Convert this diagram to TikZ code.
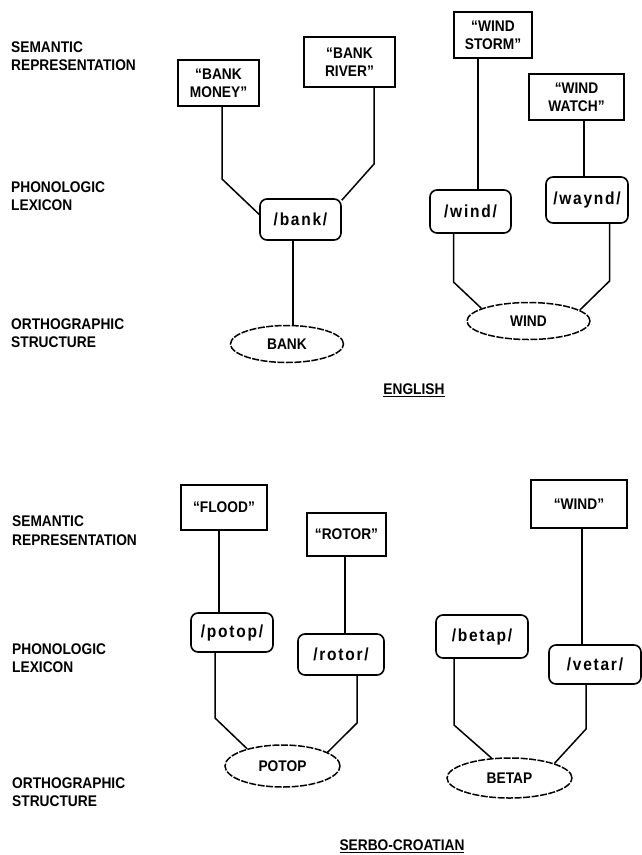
\documentclass[tikz,border=0pt]{standalone}
\usepackage{fontspec}
\setmainfont{Liberation Sans}[FakeStretch=0.89]
\newfontfamily\phonfont{Liberation Sans}[LetterSpace=10, FakeStretch=0.89]
\usetikzlibrary{shapes.geometric}
\tikzset{
  txt/.style={font=\bfseries\fontsize{15.5}{18.5}\selectfont},
  lbl/.style={txt, anchor=west, align=left, inner sep=0pt},
  sem/.style={txt, draw, line width=1.6bp, align=center, inner sep=0pt},
  phon/.style={draw, rounded corners=7bp, line width=1.6bp, inner sep=0pt,
    font=\phonfont\bfseries\fontsize{17.5}{20}\selectfont},
  orth/.style={txt, draw, ellipse, dash pattern=on 7bp off 1.5bp, line width=1.5bp, inner sep=0pt},
  conn/.style={line width=1.5bp},
  title/.style={txt, inner sep=0pt}
}
\begin{document}
\begin{tikzpicture}[x=1bp,y=-1bp]
\useasboundingbox (0,0) rectangle (642,855);
% ---------------- ENGLISH ----------------
\node[lbl] (l1) at (11,56) {SEMANTIC\\REPRESENTATION};
\node[lbl] (l2) at (11,196) {PHONOLOGIC\\LEXICON};
\node[lbl] (l3) at (11,333) {ORTHOGRAPHIC\\STRUCTURE};

\node[sem, minimum width=81bp, minimum height=46bp] (bm) at (218.5,83) {``BANK\\MONEY''};
\node[sem, minimum width=91bp, minimum height=50bp] (br) at (349.5,62) {``BANK\\RIVER''};
\node[sem, minimum width=78bp, minimum height=46bp] (ws) at (493,35) {``WIND\\STORM''};
\node[sem, minimum width=95bp, minimum height=46bp] (ww) at (576.5,97) {``WIND\\WATCH''};

\node[phon, minimum width=81bp, minimum height=41bp] (bank) at (300.5,219.5) {/bank/};
\node[phon, minimum width=81bp, minimum height=43bp] (wind) at (470.5,211.5) {/wind/};
\node[phon, minimum width=82bp, minimum height=46bp] (waynd) at (587,200) {/waynd/};

\node[orth, minimum width=113bp, minimum height=37bp] (oBank) at (287,344) {BANK};
\node[orth, minimum width=123bp, minimum height=37bp] (oWind) at (528.5,321) {WIND};

\node[title] (en) at (414,390) {\underline{ENGLISH}};

\coordinate (k1) at (222,179);
\draw[conn] (k1 |- bm.south) -- (k1) -- (bank.173);
\coordinate (k2) at (374,164);
\draw[conn] (k2 |- br.south) -- (k2) -- (bank.25);
\coordinate (k3) at (293,0);
\draw[conn] (bank.south -| k3) -- (oBank.north -| k3);
\coordinate (k4) at (478,0);
\draw[conn] (ws.south -| k4) -- (wind.north -| k4);
\coordinate (k5) at (584,0);
\draw[conn] (ww.south -| k5) -- (waynd.north -| k5);
\coordinate (k6) at (453.5,282);
\draw[conn] (k6 |- wind.south) -- (k6) -- (oWind.165.5);
\coordinate (k7) at (609.5,281);
\draw[conn] (k7 |- waynd.south) -- (k7) -- (oWind.12.6);

% ---------------- SERBO-CROATIAN ----------------
\node[lbl] (l4) at (12,530.5) {SEMANTIC\\REPRESENTATION};
\node[lbl] (l5) at (12,658) {PHONOLOGIC\\LEXICON};
\node[lbl] (l6) at (12,792) {ORTHOGRAPHIC\\STRUCTURE};

\node[sem, minimum width=86bp, minimum height=45bp] (fl) at (224,507.5) {``FLOOD''};
\node[sem, minimum width=79bp, minimum height=43bp] (ro) at (346.5,534.5) {``ROTOR''};
\node[sem, minimum width=96bp, minimum height=48bp] (wi) at (579,504) {``WIND''};

\node[phon, minimum width=82bp, minimum height=39bp] (potop) at (232,632.5) {/potop/};
\node[phon, minimum width=86bp, minimum height=41bp] (rotor) at (341,654.5) {/rotor/};
\node[phon, minimum width=92bp, minimum height=43bp] (betap) at (482,636.5) {/betap/};
\node[phon, minimum width=92bp, minimum height=39bp] (vetar) at (595,664.5) {/vetar/};

\node[orth, minimum width=115bp, minimum height=42bp] (oPotop) at (282.5,766) {POTOP};
\node[orth, minimum width=125bp, minimum height=40bp] (oBetap) at (509.5,778) {BETAP};

\node[title] (sc) at (402,846) {\underline{SERBO-CROATIAN}};

\coordinate (m1) at (219,0);
\draw[conn] (fl.south -| m1) -- (potop.north -| m1);
\coordinate (m2) at (345,0);
\draw[conn] (ro.south -| m2) -- (rotor.north -| m2);
\coordinate (m3) at (582,0);
\draw[conn] (wi.south -| m3) -- (vetar.north -| m3);
\coordinate (m4) at (215,718);
\draw[conn] (m4 |- potop.south) -- (m4) -- (oPotop.154.8);
\coordinate (m5) at (357,723);
\draw[conn] (m5 |- rotor.south) -- (m5) -- (oPotop.17.1);
\coordinate (m6) at (454,725);
\draw[conn] (m6 |- betap.south) -- (m6) -- (oBetap.132.6);
\coordinate (m7) at (586,729);
\draw[conn] (m7 |- vetar.south) -- (m7) -- (oBetap.18.2);
\end{tikzpicture}
\end{document}
